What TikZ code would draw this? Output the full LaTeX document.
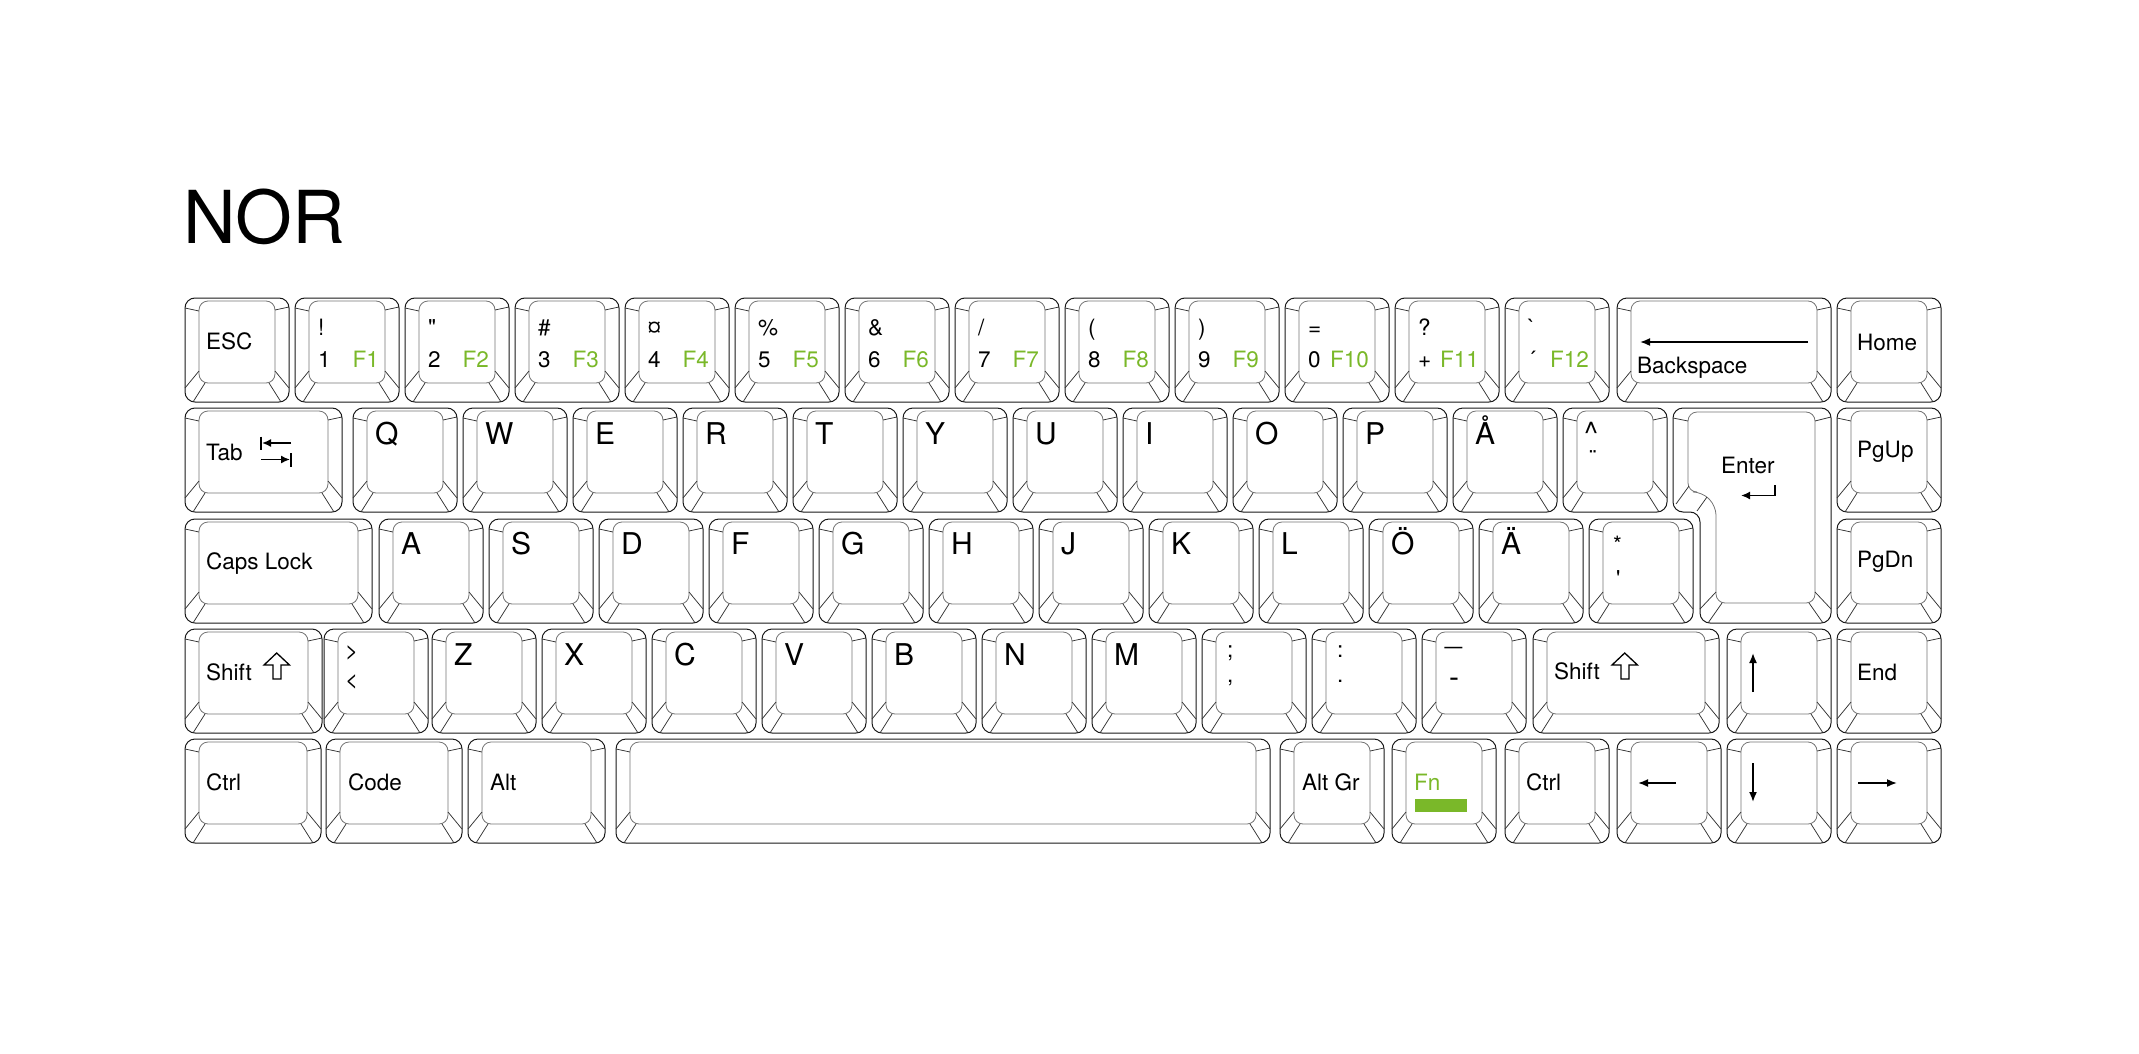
\documentclass[tikz,border=0pt]{standalone}
\usepackage{fontspec}
\setmainfont{TeX Gyre Heros}
\usetikzlibrary{arrows.meta}

\definecolor{fngreen}{RGB}{122,184,41}

% one keycap: left, top, width (height is fixed)
\newcommand{\keycap}[3]{%
  \pgfmathsetmacro{\keyR}{#1+#3}%
  \pgfmathsetmacro{\keyB}{#2+104}%
  \draw[keyedge] (#1,#2) rectangle (\keyR,\keyB);
  \draw[keytop] (#1+14,#2+3) rectangle (\keyR-14,\keyB-19);
  \draw[keybevel] (#1,#2+10) -- (#1+14,#2+13)
    (\keyR-14,#2+12) -- (\keyR,#2+9)
    (#1+14,\keyB-31) -- (#1,\keyB-14)
    (#1+20,\keyB-19) -- (#1+8,\keyB)
    (\keyR-14,\keyB-31) -- (\keyR,\keyB-14)
    (\keyR-20,\keyB-19) -- (\keyR-8,\keyB);
}

% hollow shift arrow on a key at left, top
\newcommand{\shiftsym}[2]{%
  \draw[line width=1.3pt] (#1+91.7,#2+24) -- (#1+104.5,#2+36) -- (#1+96,#2+36)
    -- (#1+96,#2+50) -- (#1+88,#2+50) -- (#1+88,#2+36) -- (#1+79,#2+36) -- cycle;
}

\begin{document}
\begin{tikzpicture}[
  x=1pt, y=-1pt,
  >={Latex[length=10pt,width=8pt]},
  keyedge/.style={draw=black!90,line width=1pt,rounded corners=10pt},
  keytop/.style={draw=black!55,line width=0.8pt,rounded corners=9pt},
  keybevel/.style={draw=black!80,line width=0.75pt},
  lbl/.style={anchor=base west,inner sep=0pt,font=\fontsize{22.5}{26}\selectfont},
  letter/.style={anchor=base west,inner sep=0pt,font=\fontsize{30}{34}\selectfont},
  fnlbl/.style={anchor=base east,inner sep=0pt,text=fngreen,font=\fontsize{22.5}{26}\selectfont},
  arr/.style={line width=1.7pt}
  ]

  \useasboundingbox (0,0) rectangle (2139,1054);

  \node [anchor=base west,inner sep=0pt,font=\fontsize{73}{80}\selectfont] (title) at (183,243) {NOR};


  % number row
  \keycap{185}{298}{104}
  \node [lbl] (esc) at (206,349) {ESC};
  \foreach \upch/\dnch/\fnch [count=\i from 0] in {!/1/F1, \textquotedbl/2/F2, \#/3/F3, ¤/4/F4, \%/5/F5, \&/6/F6, {/}/7/F7, {(}/8/F8, {)}/9/F9, =/0/F10, ?/+/F11, \textasciigrave/´/F12}{
    \pgfmathsetmacro{\nx}{295+110*\i}
    \keycap{\nx}{298}{104}
    \node [lbl] (up\i) at (\nx+23,335) {\upch};
    \node [lbl] (dn\i) at (\nx+23,367) {\dnch};
    \node [fnlbl] (fn\i) at (\nx+84,367) {\fnch};
  }
  \keycap{1617}{298}{214}
  \node [lbl] (bksp) at (1637,373) {Backspace};
  \draw[->,line width=1.6pt] (1808,342) -- (1640,342);
  \keycap{1837}{298}{104}
  \node [lbl] (home) at (1857,350) {Home};


  % Q row
  \keycap{185}{408}{157}
  \node [lbl] (tab) at (206,460) {Tab};
  \begin{scope}[line width=1.6pt,>={Latex[length=9pt,width=8pt]}]
    \draw[->] (291,443) -- (262,443);
    \draw (261,436.5) -- (261,450);
    \draw[->] (261,459.5) -- (290,459.5);
    \draw (291,453) -- (291,466.5);
  \end{scope}
  \foreach \ch [count=\i from 0] in {Q,W,E,R,T,Y,U,I,O,P,Å}{
    \pgfmathsetmacro{\nx}{353+110*\i}
    \keycap{\nx}{408}{104}
    \node [letter] (qrow\i) at (\nx+22,444) {\ch};
  }
  \keycap{1563}{408}{104}
  \node [letter] (caret) at (1584,443) {\textasciicircum};
  \node [lbl] (uml) at (1589,466) {¨};

  % Enter
  \draw[keyedge] (1673,408) -- (1831,408) -- (1831,623) -- (1700,623) -- (1700,512) -- (1673,512) -- cycle;
  \draw[keytop] (1688,412) -- (1815,412) -- (1815,603) -- (1716,603) -- (1716,506) -- (1702,492) -- (1688,492) -- cycle;
  \draw[keybevel] (1673,418) -- (1688,421) (1815,421) -- (1831,417)
    (1815,592) -- (1831,609) (1809,603) -- (1823,623)
    (1716,592) -- (1700,609) (1722,603) -- (1708,623)
    (1689,486) -- (1676,504) (1707,497) -- (1697,511);
  \node [lbl] (enter) at (1721,473) {Enter};
  \draw[->,line width=1.6pt,>={Latex[length=9pt,width=8pt]}] (1775,485) -- (1775,495.5) -- (1741,495.5);

  \keycap{1837}{408}{104}
  \node [lbl] (pgup) at (1857,457) {PgUp};


  % A row
  \keycap{185}{519}{187}
  \node [lbl] (caps) at (206,569) {Caps Lock};
  \foreach \ch [count=\i from 0] in {A,S,D,F,G,H,J,K,L,Ö,Ä}{
    \pgfmathsetmacro{\nx}{379+110*\i}
    \keycap{\nx}{519}{104}
    \node [letter] (arow\i) at (\nx+22,554) {\ch};
  }
  \keycap{1589}{519}{104}
  \node [lbl] (star) at (1613,552) {*};
  \node [lbl] (apos) at (1616,586) {\textquotesingle};
  \keycap{1837}{519}{104}
  \node [lbl] (pgdn) at (1857,567) {PgDn};


  % Z row
  \keycap{185}{629}{137}
  \node [lbl] (lshift) at (206,680) {Shift};
  \shiftsym{185}{629}
  \keycap{324}{629}{104}
  \node [lbl] (gt) at (345,658) {>};
  \node [lbl] (lt) at (345,687) {<};
  \foreach \ch [count=\i from 0] in {Z,X,C,V,B,N,M}{
    \pgfmathsetmacro{\nx}{432+110*\i}
    \keycap{\nx}{629}{104}
    \node [letter] (zrow\i) at (\nx+22,665) {\ch};
  }
  \keycap{1202}{629}{104}
  \node [lbl] (semi) at (1227,657) {;};
  \node [lbl] (comma) at (1227,682) {,};
  \keycap{1312}{629}{104}
  \node [lbl] (colon) at (1337,657) {:};
  \node [lbl] (period) at (1337,682) {.};
  \keycap{1422}{629}{104}
  \node [letter] (uscore) at (1445,643) {\_};
  \node [letter] (minus) at (1449,687) {-};
  \keycap{1533}{629}{186}
  \node [lbl] (rshift) at (1554,679) {Shift};
  \shiftsym{1533}{629}
  \keycap{1727}{629}{104}
  \draw[->,arr] (1753,692) -- (1753,653);
  \keycap{1837}{629}{104}
  \node [lbl] (end) at (1857,680) {End};


  % bottom row
  \keycap{185}{739}{136}
  \node [lbl] (lctrl) at (206,790) {Ctrl};
  \keycap{326}{739}{136}
  \node [lbl] (code) at (348,790) {Code};
  \keycap{468}{739}{137}
  \node [lbl] (alt) at (490,790) {Alt};
  \keycap{616}{739}{654}
  \keycap{1280}{739}{104}
  \node [lbl] (altgr) at (1302,790) {Alt Gr};
  \keycap{1392}{739}{104}
  \node [lbl,text=fngreen] (fn) at (1414,790) {Fn};
  \fill[fngreen] (1415,799) rectangle (1467,812);
  \keycap{1505}{739}{104}
  \node [lbl] (rctrl) at (1526,790) {Ctrl};
  \keycap{1617}{739}{104}
  \draw[->,arr] (1676,783) -- (1638,783);
  \keycap{1727}{739}{104}
  \draw[->,arr] (1753,763) -- (1753,802);
  \keycap{1837}{739}{104}
  \draw[->,arr] (1858,783) -- (1897,783);


\end{tikzpicture}
\end{document}
